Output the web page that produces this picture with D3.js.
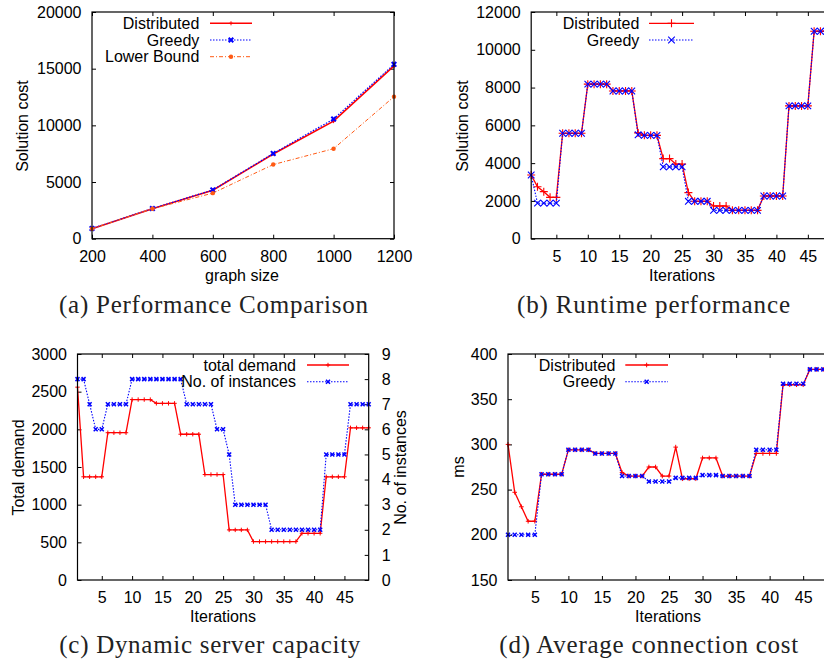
<!DOCTYPE html>
<html>
<head>
<meta charset="utf-8">
<script src="https://cdn.jsdelivr.net/npm/d3@7"></script>
<style>
body { margin: 0; background: #fff; }
svg { display: block; overflow: hidden; }
</style>
</head>
<body>
<svg id="chart" width="824" height="662"></svg>
<script>
// ---- data ----
// (a) performance comparison
const graphSizes = [200, 400, 600, 800, 1000, 1200];
const perfDistributed = [880, 2650, 4270, 7470, 10370, 15250];
const perfGreedy = [900, 2660, 4300, 7520, 10560, 15380];
const perfLowerBound = [880, 2640, 4020, 6540, 7940, 12530];

// iterations for (b), (c), (d)
const iterations = [1, 2, 3, 4, 5, 6, 7, 8, 9, 10, 11, 12, 13, 14, 15, 16, 17, 18, 19, 20,
  21, 22, 23, 24, 25, 26, 27, 28, 29, 30, 31, 32, 33, 34, 35, 36, 37, 38, 39, 40,
  41, 42, 43, 44, 45, 46, 47, 48, 49];

// (b) runtime performance
const runDistributed = [3370, 2750, 2490, 2190, 2190, 5580, 5580, 5580, 5580,
  8180, 8180, 8180, 8180, 7820, 7820, 7820, 7820, 5600, 5470, 5470, 5470,
  4240, 4240, 3950, 3950, 2440, 1980, 1980, 1980, 1730, 1730, 1730,
  1500, 1500, 1500, 1500, 1500, 2260, 2260, 2260, 2260,
  7030, 7030, 7030, 7030, 10980, 10980, 10980, 10980];
const runGreedy = [3370, 1880, 1880, 1880, 1880, 5580, 5580, 5580, 5580,
  8180, 8180, 8180, 8180, 7820, 7820, 7820, 7820, 5500, 5470, 5470, 5470,
  3800, 3800, 3800, 3800, 1980, 1980, 1980, 1980, 1500, 1500, 1500,
  1500, 1500, 1500, 1500, 1500, 2260, 2260, 2260, 2260,
  7030, 7030, 7030, 7030, 10980, 10980, 10980, 10980];

// (c) dynamic server capacity
const totalDemand = [2560, 1370, 1370, 1370, 1370, 1955, 1955, 1955, 1955,
  2395, 2395, 2395, 2395, 2345, 2345, 2345, 2345, 1935, 1935, 1935, 1935,
  1400, 1400, 1400, 1400, 665, 665, 665, 665, 510, 510, 510, 510, 510, 510, 510, 510,
  620, 620, 620, 620, 1370, 1370, 1370, 1370, 2020, 2020, 2020, 2020];
const numInstances = [8, 8, 7, 6, 6, 7, 7, 7, 7, 8, 8, 8, 8, 8, 8, 8, 8, 8,
  7, 7, 7, 7, 7, 6, 6, 5, 3, 3, 3, 3, 3, 3, 2, 2, 2, 2, 2, 2, 2, 2, 2,
  5, 5, 5, 5, 7, 7, 7, 7];

// (d) average connection cost
const connDistributed = [300, 247, 231, 215, 215, 267, 267, 267, 267,
  294, 294, 294, 294, 290, 290, 290, 290, 269, 265, 265, 265,
  275, 275, 265, 265, 297, 262, 262, 262, 285, 285, 285,
  265, 265, 265, 265, 265, 290, 290, 290, 290,
  366, 366, 366, 366, 383, 383, 383, 383];
const connGreedy = [200, 200, 200, 200, 200, 267, 267, 267, 267,
  294, 294, 294, 294, 290, 290, 290, 290, 265, 265, 265, 265,
  259, 259, 259, 259, 263, 263, 263, 263, 266, 266, 266,
  265, 265, 265, 265, 265, 294, 294, 294, 294,
  367, 367, 367, 367, 383, 383, 383, 383];

// tick values
const ticksA_x = [200, 400, 600, 800, 1000, 1200];
const ticksA_y = [0, 5000, 10000, 15000, 20000];
const ticksIter = [5, 10, 15, 20, 25, 30, 35, 40, 45];
const ticksB_y = [0, 2000, 4000, 6000, 8000, 10000, 12000];
const ticksC_y = [0, 500, 1000, 1500, 2000, 2500, 3000];
const ticksC_y2 = [0, 1, 2, 3, 4, 5, 6, 7, 8, 9];
const ticksD_y = [150, 200, 250, 300, 350, 400];

// ---- drawing ----
const svg = d3.select("#chart");
const SANS = "'Liberation Sans', Arial, Helvetica, sans-serif";
const SERIF = "'Liberation Serif', 'Times New Roman', serif";

const RED = "#ff0000", BLUE = "#0000ff", ORANGE = "#ff5a14";

function markerPath(type, r) {
  if (type == "plus") return `M${-r},0H${r}M0,${-r}V${r}`;
  if (type == "times") return `M${-r},${-r}L${r},${r}M${-r},${r}L${r},${-r}`;
  return null;
}

function styleAxis(g) {
  g.select(".domain").remove();
  g.attr("font-family", SANS).attr("font-size", 16);
  g.selectAll(".tick line").attr("stroke", "#000").attr("stroke-width", 1);
  g.selectAll(".tick text").attr("fill", "#000");
}

function drawMarkers(g, pts, s) {
  if (s.marker == "dot") {
    g.selectAll(null).data(pts).enter().append("circle")
      .attr("cx", d => d[0]).attr("cy", d => d[1])
      .attr("r", s.size).attr("fill", s.color);
  } else {
    g.selectAll(null).data(pts).enter().append("path")
      .attr("transform", d => `translate(${d[0]},${d[1]})`)
      .attr("d", markerPath(s.marker, s.size))
      .attr("fill", "none").attr("stroke", s.color)
      .attr("stroke-width", s.markerWidth);
  }
}

function drawPanel(p) {
  const g = svg.append("g");
  const x = d3.scaleLinear().domain(p.xDomain).range([p.left, p.right]);
  const y = d3.scaleLinear().domain(p.yDomain).range([p.bottom, p.top]);
  const y2 = p.y2Domain ? d3.scaleLinear().domain(p.y2Domain).range([p.bottom, p.top]) : null;

  // axes (ticks pointing inward)
  g.append("g").attr("transform", `translate(0,${p.bottom})`)
    .call(d3.axisBottom(x).tickValues(p.xTicks).tickSize(-4).tickSizeOuter(0).tickPadding(12).tickFormat(d3.format("d")))
    .call(styleAxis);
  g.append("g").attr("transform", `translate(0,${p.top})`)
    .call(d3.axisTop(x).tickValues(p.xTicks).tickSize(-4).tickSizeOuter(0).tickFormat(""))
    .call(styleAxis);
  g.append("g").attr("transform", `translate(${p.left},0)`)
    .call(d3.axisLeft(y).tickValues(p.yTicks).tickSize(-4).tickSizeOuter(0).tickPadding(10.5).tickFormat(d3.format("d")))
    .call(styleAxis);
  if (y2) {
    g.append("g").attr("transform", `translate(${p.right},0)`)
      .call(d3.axisRight(y2).tickValues(p.y2Ticks).tickSize(-4).tickSizeOuter(0).tickPadding(13).tickFormat(d3.format("d")))
      .call(styleAxis);
  } else {
    g.append("g").attr("transform", `translate(${p.right},0)`)
      .call(d3.axisRight(y).tickValues(p.yTicks).tickSize(-4).tickSizeOuter(0).tickFormat(""))
      .call(styleAxis);
  }

  // series
  p.series.forEach(s => {
    const sc = s.axis == 2 ? y2 : y;
    const pts = s.xs.map((v, i) => [x(v), sc(s.ys[i])]);
    g.append("path").datum(pts)
      .attr("d", d3.line())
      .attr("fill", "none").attr("stroke", s.color)
      .attr("stroke-width", s.width)
      .attr("stroke-dasharray", s.dash || null);
    drawMarkers(g, pts, s);
  });

  // frame
  g.append("rect")
    .attr("x", p.left).attr("y", p.top)
    .attr("width", p.right - p.left).attr("height", p.bottom - p.top)
    .attr("fill", "none").attr("stroke", "#000").attr("stroke-width", 1.2);

  // legend
  p.series.forEach((s, i) => {
    const ly = p.legend.y + i * 16.7;
    g.append("text").attr("x", p.legend.textRight).attr("y", ly).attr("dy", "0.35em")
      .attr("text-anchor", "end").attr("font-family", SANS).attr("font-size", 16)
      .text(s.name);
    g.append("line").attr("x1", p.legend.s0).attr("x2", p.legend.s1)
      .attr("y1", ly).attr("y2", ly)
      .attr("stroke", s.color).attr("stroke-width", s.width)
      .attr("stroke-dasharray", s.dash || null);
    drawMarkers(g, [[(p.legend.s0 + p.legend.s1) / 2, ly]], s);
  });

  // axis titles
  g.append("text").attr("x", p.xTitle[0]).attr("y", p.xTitle[1])
    .attr("text-anchor", "middle").attr("font-family", SANS).attr("font-size", 16)
    .text(p.xLabel);
  g.append("text").attr("transform", `translate(${p.yTitle[0]},${p.yTitle[1]}) rotate(-90)`)
    .attr("text-anchor", "middle").attr("dominant-baseline", "central")
    .attr("font-family", SANS).attr("font-size", 16).text(p.yLabel);
  if (p.y2Label) {
    g.append("text").attr("transform", `translate(${p.y2Title[0]},${p.y2Title[1]}) rotate(-90)`)
      .attr("text-anchor", "middle").attr("dominant-baseline", "central")
      .attr("font-family", SANS).attr("font-size", 16).text(p.y2Label);
  }

  // caption
  g.append("text").attr("x", p.caption.x).attr("y", p.caption.y)
    .attr("font-family", SERIF).attr("font-size", 25).attr("fill", "#222")
    .attr("textLength", p.caption.w).attr("lengthAdjust", "spacing")
    .text(p.caption.text);
}

drawPanel({
  left: 92, right: 394, top: 12, bottom: 238.7,
  xDomain: [200, 1200], yDomain: [0, 20000],
  xTicks: ticksA_x, yTicks: ticksA_y,
  xLabel: "graph size", xTitle: [242, 281],
  yLabel: "Solution cost", yTitle: [22.7, 126],
  legend: {y: 23.3, textRight: 199.3, s0: 210, s1: 252},
  caption: {text: "(a) Performance Comparison", x: 59, y: 313, w: 309},
  series: [
    {name: "Distributed", xs: graphSizes, ys: perfDistributed, color: RED, width: 1.6, marker: "plus", size: 2, markerWidth: 1},
    {name: "Greedy", xs: graphSizes, ys: perfGreedy, color: BLUE, width: 1.2, dash: "1.5,1.5", marker: "times", size: 2.3, markerWidth: 2},
    {name: "Lower Bound", xs: graphSizes, ys: perfLowerBound, color: ORANGE, width: 1, dash: "4,2,1,2", marker: "dot", size: 2.2}
  ]
});

drawPanel({
  left: 531.2, right: 833, top: 12, bottom: 238.7,
  xDomain: [1, 49], yDomain: [0, 12000],
  xTicks: ticksIter, yTicks: ticksB_y,
  xLabel: "Iterations", xTitle: [682, 281],
  yLabel: "Solution cost", yTitle: [462, 126],
  legend: {y: 23.3, textRight: 639.3, s0: 649, s1: 694},
  caption: {text: "(b) Runtime performance", x: 517, y: 313, w: 273},
  series: [
    {name: "Distributed", xs: iterations, ys: runDistributed, color: RED, width: 1.3, marker: "plus", size: 4, markerWidth: 1.1},
    {name: "Greedy", xs: iterations, ys: runGreedy, color: BLUE, width: 1.1, dash: "1.5,1.5", marker: "times", size: 3.3, markerWidth: 1.1}
  ]
});

drawPanel({
  left: 77.5, right: 368.7, top: 354, bottom: 580,
  xDomain: [1, 49], yDomain: [0, 3000], y2Domain: [0, 9],
  xTicks: ticksIter, yTicks: ticksC_y, y2Ticks: ticksC_y2,
  xLabel: "Iterations", xTitle: [223, 622],
  yLabel: "Total demand", yTitle: [18.3, 467.5],
  y2Label: "No. of instances", y2Title: [400, 467.5],
  legend: {y: 365, textRight: 296, s0: 307, s1: 349},
  caption: {text: "(c) Dynamic server capacity", x: 59.3, y: 653, w: 301},
  series: [
    {name: "total demand", xs: iterations, ys: totalDemand, color: RED, width: 1.3, marker: "plus", size: 2.2, markerWidth: 1},
    {name: "No. of instances", xs: iterations, ys: numInstances, axis: 2, color: BLUE, width: 1.1, dash: "1.5,1.5", marker: "times", size: 2, markerWidth: 1.5}
  ]
});

drawPanel({
  left: 508, right: 830, top: 354, bottom: 580,
  xDomain: [1, 49], yDomain: [150, 400],
  xTicks: ticksIter, yTicks: ticksD_y,
  xLabel: "Iterations", xTitle: [668, 622],
  yLabel: "ms", yTitle: [458.7, 467],
  legend: {y: 365, textRight: 615.3, s0: 625.3, s1: 668},
  caption: {text: "(d) Average connection cost", x: 499.3, y: 653, w: 299},
  series: [
    {name: "Distributed", xs: iterations, ys: connDistributed, color: RED, width: 1.3, marker: "plus", size: 2.3, markerWidth: 1},
    {name: "Greedy", xs: iterations, ys: connGreedy, color: BLUE, width: 1.1, dash: "1.5,1.5", marker: "times", size: 2, markerWidth: 1.5}
  ]
});
</script>
</body>
</html>
